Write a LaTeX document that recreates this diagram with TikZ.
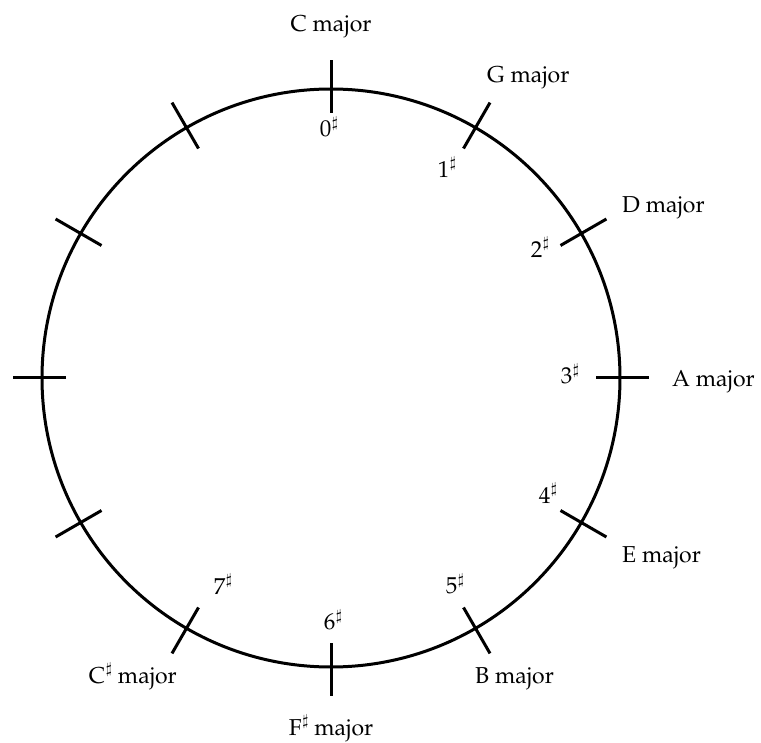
\documentclass[tikz,border=0pt]{standalone}
\usepackage[T1]{fontenc}
\usepackage{mathpazo}
\usetikzlibrary{calc}
\newcommand\shp{\kern0.5pt\raisebox{0.85ex}{\fontsize{15}{15}\selectfont$\sharp$}}
\begin{document}
\begin{tikzpicture}[x=1pt,y=1pt,
  ring/.style={line width=3pt},
  tick/.style={line width=3pt},
  lab/.style={font=\fontsize{23}{27}\selectfont, inner sep=0pt}]
\useasboundingbox (0,0) rectangle (761,-743);
\coordinate (O) at (331,-378);
\draw[ring] (O) circle (289pt);
\foreach \i in {0,...,11}{
  \draw[tick] ($(O)+({90-30*\i}:265pt)$) -- ($(O)+({90-30*\i}:318pt)$);
}
% sharps counts (inside)
\node[lab] (s0) at (329,-127) {0\shp};
\node[lab] (s1) at (447,-167) {1\shp};
\node[lab] (s2) at (540,-247) {2\shp};
\node[lab] (s3) at (570,-374) {3\shp};
\node[lab] (s4) at (548,-493) {4\shp};
\node[lab] (s5) at (455,-584) {5\shp};
\node[lab] (s6) at (333,-620) {6\shp};
\node[lab] (s7) at (223,-584) {7\shp};
% keys (outside)
\node[lab, anchor=base] (kC) at (331,-32) {C major};
\node[lab, anchor=base west] (kG) at (487,-83) {G major};
\node[lab, anchor=base west] (kD) at (622,-213) {D major};
\node[lab, anchor=base west] (kA) at (672,-387) {A major};
\node[lab, anchor=base west] (kE) at (622,-562) {E major};
\node[lab, anchor=base west] (kB) at (475,-683) {B major};
\node[lab, anchor=base] (kF) at (331,-735) {F\shp{} major};
\node[lab, anchor=base east] (kCs) at (177,-683) {C\shp{} major};
\end{tikzpicture}
\end{document}
